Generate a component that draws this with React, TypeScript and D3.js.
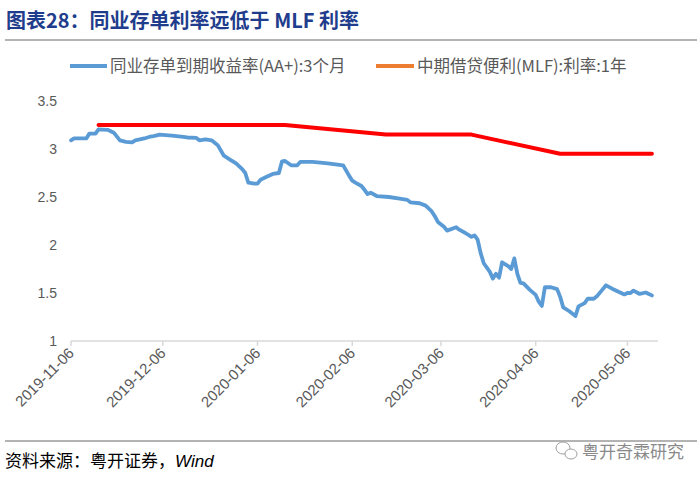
import React from 'react';
import * as d3 from 'd3';

// 同业存单到期收益率(AA+):3个月
const ncdDates = [
  '2019-11-06', '2019-11-07', '2019-11-08', '2019-11-11', '2019-11-12', '2019-11-14', '2019-11-15',
  '2019-11-18', '2019-11-20', '2019-11-22', '2019-11-24', '2019-11-26', '2019-11-27', '2019-11-30',
  '2019-12-02', '2019-12-03', '2019-12-05', '2019-12-07', '2019-12-09', '2019-12-12', '2019-12-14',
  '2019-12-17', '2019-12-18', '2019-12-20', '2019-12-22', '2019-12-24', '2019-12-26', '2019-12-28',
  '2019-12-30', '2020-01-01', '2020-01-02', '2020-01-03', '2020-01-05', '2020-01-06', '2020-01-07',
  '2020-01-09', '2020-01-11', '2020-01-13', '2020-01-14', '2020-01-15', '2020-01-17', '2020-01-19',
  '2020-01-20', '2020-01-24', '2020-01-29', '2020-02-03', '2020-02-05', '2020-02-06', '2020-02-07',
  '2020-02-09', '2020-02-10', '2020-02-11', '2020-02-12', '2020-02-14', '2020-02-18', '2020-02-21',
  '2020-02-24', '2020-02-25', '2020-02-28', '2020-03-01', '2020-03-03', '2020-03-04', '2020-03-05',
  '2020-03-07', '2020-03-08', '2020-03-11', '2020-03-12', '2020-03-14', '2020-03-16', '2020-03-17',
  '2020-03-18', '2020-03-19', '2020-03-20', '2020-03-22', '2020-03-23', '2020-03-24', '2020-03-25',
  '2020-03-26', '2020-03-28', '2020-03-29', '2020-03-30', '2020-03-31', '2020-04-01', '2020-04-02',
  '2020-04-04', '2020-04-06', '2020-04-07', '2020-04-08', '2020-04-09', '2020-04-11', '2020-04-13',
  '2020-04-14', '2020-04-15', '2020-04-17', '2020-04-19', '2020-04-20', '2020-04-22', '2020-04-23',
  '2020-04-25', '2020-04-26', '2020-04-29', '2020-05-01', '2020-05-05', '2020-05-06', '2020-05-07',
  '2020-05-08', '2020-05-10', '2020-05-12', '2020-05-13', '2020-05-14',
];
const ncdValues = [
  3.09, 3.11, 3.11, 3.11, 3.16, 3.16, 3.205,
  3.2, 3.17, 3.09, 3.075, 3.07, 3.09, 3.11,
  3.13, 3.135, 3.15, 3.145, 3.14, 3.13, 3.12,
  3.115, 3.09, 3.1, 3.09, 3.04, 2.93, 2.89,
  2.85, 2.79, 2.75, 2.65, 2.64, 2.64, 2.68,
  2.71, 2.74, 2.75, 2.87, 2.875, 2.83, 2.83,
  2.865, 2.865, 2.85, 2.83, 2.72, 2.67, 2.65,
  2.615, 2.575, 2.53, 2.545, 2.51, 2.5, 2.485,
  2.47, 2.445, 2.435, 2.41, 2.35, 2.3, 2.24,
  2.19, 2.15, 2.185, 2.16, 2.125, 2.085, 2.1,
  2.055, 1.915, 1.81, 1.72, 1.65, 1.7, 1.66,
  1.82, 1.78, 1.75, 1.86, 1.7, 1.605, 1.6,
  1.535, 1.48, 1.41, 1.365, 1.56, 1.56, 1.54,
  1.46, 1.35, 1.31, 1.26, 1.36, 1.395, 1.44,
  1.44, 1.465, 1.58, 1.545, 1.485, 1.5, 1.5,
  1.525, 1.49, 1.505, 1.49, 1.475,
];

// 中期借贷便利(MLF):利率:1年
const mlfDates = ['2019-11-15', '2020-01-15', '2020-02-17', '2020-03-16', '2020-04-14', '2020-05-14'];
const mlfValues = [3.25, 3.25, 3.15, 3.15, 2.95, 2.95];

const xTickDates = ['2019-11-06', '2019-12-06', '2020-01-06', '2020-02-06', '2020-03-06', '2020-04-06', '2020-05-06'];
const yTicks = [1, 1.5, 2, 2.5, 3, 3.5];
const yTickLabels = ['1', '1.5', '2', '2.5', '3', '3.5'];

const seriesNames = ['同业存单到期收益率(AA+):3个月', '中期借贷便利(MLF):利率:1年'];

const parse = d3.timeParse('%Y-%m-%d');
const font = '"Liberation Sans", Arial, "Noto Sans CJK SC", sans-serif';
const cjk = '"Noto Sans CJK SC", "Liberation Sans", sans-serif';

const App: React.FC = () => {
  const x = d3.scaleTime()
    .domain([parse('2019-11-06')!, parse('2020-05-16')!])
    .range([71, 658]);
  const y = d3.scaleLinear().domain([1, 3.5]).range([341, 101]);

  const ncd = ncdDates.map((d, i) => ({ date: parse(d)!, value: ncdValues[i] }));
  const mlf = mlfDates.map((d, i) => ({ date: parse(d)!, value: mlfValues[i] }));

  const line = d3.line<{ date: Date; value: number }>()
    .x(d => x(d.date))
    .y(d => y(d.value));

  return (
    <svg width={700} height={482} style={{ position: 'absolute', left: 0, top: 0, background: '#fff' }}>
      {/* title */}
      <text x={6} y={28} fontFamily={cjk} fontWeight="bold" fontSize={20} fill="#1F3D8C">
        图表28：同业存单利率远低于 MLF 利率
      </text>
      <line x1={5} x2={697} y1={40} y2={40} stroke="#9a9a9a" strokeWidth={1.5} />

      {/* legend */}
      <line x1={70} x2={107} y1={66} y2={66} stroke="#5B9BD5" strokeWidth={4} />
      <text x={110} y={72} fontFamily={cjk} fontSize={16.5} fill="#595959">{seriesNames[0]}</text>
      <line x1={376} x2={414} y1={66} y2={66} stroke="#ED7D31" strokeWidth={4} />
      <text x={417} y={72} fontFamily={cjk} fontSize={16.5} fill="#595959">{seriesNames[1]}</text>

      {/* y axis labels */}
      {yTicks.map((t, i) => (
        <text key={t} x={57} y={y(t) + 5} textAnchor="end" fontFamily={font} fontSize={14} fill="#595959">
          {yTickLabels[i]}
        </text>
      ))}

      {/* x axis */}
      <line x1={x.range()[0]} x2={x.range()[1]} y1={y(1)} y2={y(1)} stroke="#D9D9D9" strokeWidth={1.5} />
      {xTickDates.map(d => {
        const px = x(parse(d)!);
        return (
          <g key={d}>
            <line x1={px} x2={px} y1={y(1)} y2={y(1) + 5} stroke="#D9D9D9" strokeWidth={1.5} />
            <text
              transform={`translate(${px + 4},${y(1) + 13}) rotate(-45)`}
              textAnchor="end"
              fontFamily={font}
              fontSize={15}
              fill="#595959"
            >
              {d}
            </text>
          </g>
        );
      })}

      {/* series */}
      <path d={line(ncd) ?? ''} fill="none" stroke="#5B9BD5" strokeWidth={3.8} strokeLinejoin="round" strokeLinecap="round" />
      <path d={line(mlf) ?? ''} fill="none" stroke="#FF0000" strokeWidth={4} strokeLinejoin="round" strokeLinecap="round" />

      {/* footer */}
      <line x1={5} x2={697} y1={441} y2={441} stroke="#9a9a9a" strokeWidth={1.5} />
      <text x={5} y={467} fontFamily={cjk} fontSize={17} fill="#000">
        资料来源：粤开证券，<tspan fontFamily={font} fontStyle="italic">Wind</tspan>
      </text>
      <g stroke="#a0a0a0" fill="#fff" strokeWidth={1}>
        <ellipse cx={563} cy={448} rx={7} ry={6} />
        <ellipse cx={571} cy={454} rx={6} ry={5} />
      </g>
      <text x={582} y={458} fontFamily={cjk} fontSize={17} fill="#8a8a8a">粤开奇霖研究</text>
    </svg>
  );
};

export default App;
